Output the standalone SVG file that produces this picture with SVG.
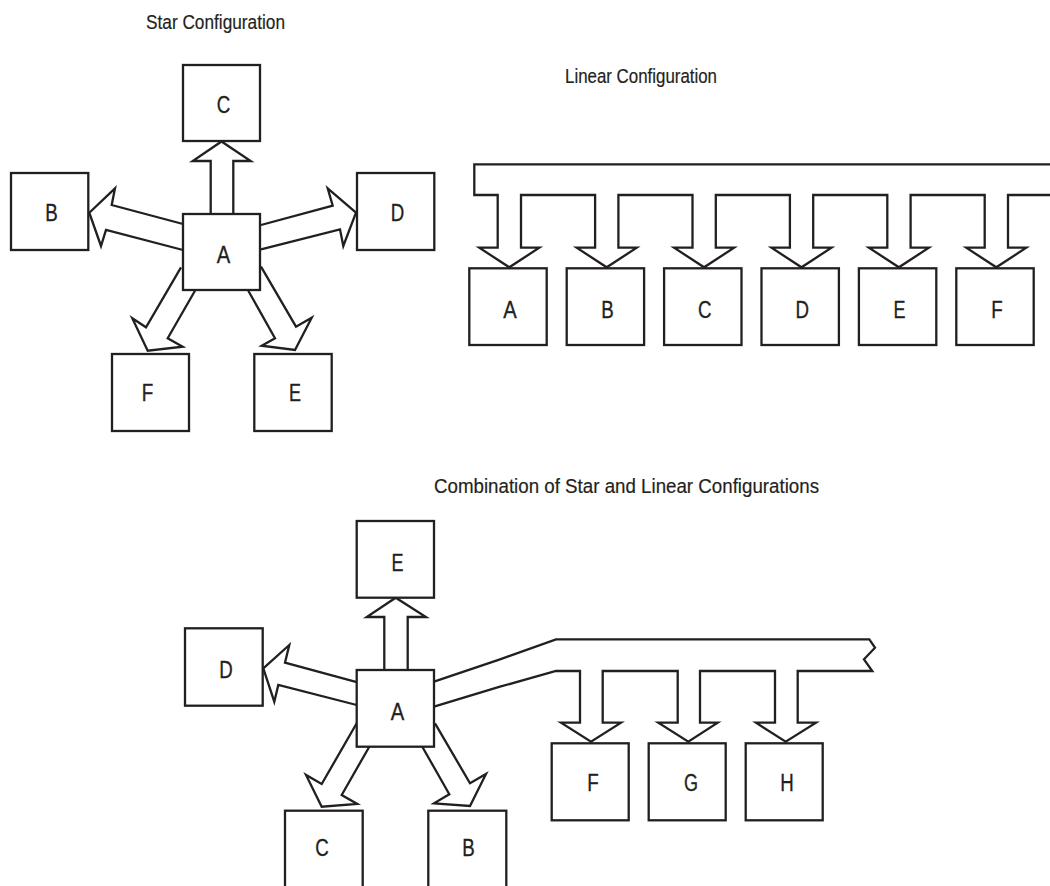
<svg xmlns="http://www.w3.org/2000/svg" width="1050" height="886" viewBox="0 0 1050 886">
<style>
.bx{fill:#fff;stroke:#231f20;stroke-width:2.3}
.cn{fill:none;stroke:#231f20;stroke-width:2.3;stroke-linejoin:miter;stroke-miterlimit:10}
.lb{font-family:"Liberation Sans Narrow","Liberation Sans",Arial,sans-serif;font-size:23.5px;fill:#231f20;stroke:#231f20;stroke-width:0.35;text-anchor:middle}
.tt{font-family:"Liberation Sans Narrow","Liberation Sans",Arial,sans-serif;font-size:20.5px;fill:#231f20;stroke:#231f20;stroke-width:0.2}
</style>
<rect width="1050" height="886" fill="#fff"/>

<text class="tt" x="146" y="28.5" textLength="139" lengthAdjust="spacingAndGlyphs">Star Configuration</text>
<text class="tt" x="565" y="82.5" textLength="152" lengthAdjust="spacingAndGlyphs">Linear Configuration</text>
<text class="tt" x="434" y="493" textLength="385" lengthAdjust="spacingAndGlyphs">Combination of Star and Linear Configurations</text>

<g id="connectors">
  <!-- star configuration -->
  <polyline class="cn" points="210.7,214 210.7,161 192.7,161 221.5,141.5 250.7,161 233.3,161 233.3,214"/>
  <polyline class="cn" points="183,224 111.7,205 115,188.3 89.3,212.7 101,246 106,230 183,250"/>
  <polyline class="cn" points="261,225 332.7,205.7 327.7,188.3 356,212.7 343.3,246 340,229.3 261,249.3"/>
  <polyline class="cn" points="181,267.3 146,327.3 132.3,318.3 147.7,350.7 182.7,346.7 167.7,338.3 195,290.7"/>
  <polyline class="cn" points="248.3,290.7 275,338.3 261.7,345.7 295,350 311.7,317.7 296,326.7 261,266.7"/>
  <!-- linear configuration bus -->
  <path class="cn" d="M1052,164.3 H474.3 V195 H497.7 V247.7 H479.3 L509.3,267.3 L539.3,247.7 H521 V195
    H595.1 V247.7 H576.7 L606.7,267.3 L636.7,247.7 H618.4 V195
    H692.5 V247.7 H674.1 L704.1,267.3 L734.1,247.7 H715.8 V195
    H789.9 V247.7 H771.5 L801.5,267.3 L831.5,247.7 H813.2 V195
    H887.3 V247.7 H868.9 L898.9,267.3 L928.9,247.7 H910.6 V195
    H984.7 V247.7 H966.3 L996.3,267.3 L1026.3,247.7 H1008 V195 H1052"/>
  <!-- combination -->
  <polyline class="cn" points="384.3,670 384.3,617 366.7,617 395.7,597.7 426,617 407.7,617 407.7,670"/>
  <polyline class="cn" points="357.7,682.3 285,662.7 289.3,645 263.3,668.3 274.3,701.7 278.3,685 356.7,705"/>
  <polyline class="cn" points="356.7,723.3 321.7,784 306,775 321.7,806.7 357.3,804 341.7,795 369.3,746.7"/>
  <polyline class="cn" points="422.3,746.7 449.3,794.3 434,803.3 470,806 486,774 470,783.3 435,723.3"/>
  <path class="cn" d="M434,681.7 L500,659.3 L556,639.3 H869.3 L875,647.7 L864,659.3 L872.3,671 H797.7 V722.7 H816 L785.7,741.7 L756,722.7 H775 V671
    H700 V722.7 H717.7 L688.3,741.7 L658.3,722.7 H677.7 V671
    H602.7 V722.7 H621 L591,741.7 L561,722.7 H580 V671 H556 L500,686.7 L434,706.7"/>
</g>

<!-- star configuration nodes -->
<g id="star-C"><rect class="bx" x="183" y="65" width="77" height="76"/><text class="lb" x="223.5" y="112.5" textLength="13.5" lengthAdjust="spacingAndGlyphs">C</text></g>
<g id="star-B"><rect class="bx" x="11" y="173" width="77.3" height="77"/><text class="lb" x="51.5" y="221" textLength="12.5" lengthAdjust="spacingAndGlyphs">B</text></g>
<g id="star-A"><rect class="bx" x="183" y="214" width="77" height="76"/><text class="lb" x="223.5" y="263" textLength="13.5" lengthAdjust="spacingAndGlyphs">A</text></g>
<g id="star-D"><rect class="bx" x="357" y="173" width="77.3" height="77"/><text class="lb" x="397.5" y="221" textLength="13.5" lengthAdjust="spacingAndGlyphs">D</text></g>
<g id="star-F"><rect class="bx" x="112" y="354" width="77" height="77"/><text class="lb" x="147.5" y="401" textLength="11.5" lengthAdjust="spacingAndGlyphs">F</text></g>
<g id="star-E"><rect class="bx" x="254.3" y="354" width="77.4" height="77"/><text class="lb" x="295" y="401" textLength="12" lengthAdjust="spacingAndGlyphs">E</text></g>

<!-- linear configuration nodes -->
<g id="lin-A"><rect class="bx" x="469.3" y="268.3" width="77.4" height="76.7"/><text class="lb" x="510" y="318" textLength="13.5" lengthAdjust="spacingAndGlyphs">A</text></g>
<g id="lin-B"><rect class="bx" x="566.7" y="268.3" width="77.4" height="76.7"/><text class="lb" x="607.4" y="318" textLength="12.5" lengthAdjust="spacingAndGlyphs">B</text></g>
<g id="lin-C"><rect class="bx" x="664.1" y="268.3" width="77.4" height="76.7"/><text class="lb" x="704.8" y="318" textLength="13.5" lengthAdjust="spacingAndGlyphs">C</text></g>
<g id="lin-D"><rect class="bx" x="761.5" y="268.3" width="77.4" height="76.7"/><text class="lb" x="802.2" y="318" textLength="13.5" lengthAdjust="spacingAndGlyphs">D</text></g>
<g id="lin-E"><rect class="bx" x="858.9" y="268.3" width="77.4" height="76.7"/><text class="lb" x="899.6" y="318" textLength="12" lengthAdjust="spacingAndGlyphs">E</text></g>
<g id="lin-F"><rect class="bx" x="956.3" y="268.3" width="77.4" height="76.7"/><text class="lb" x="997" y="318" textLength="11.5" lengthAdjust="spacingAndGlyphs">F</text></g>

<!-- combination nodes -->
<g id="comb-E"><rect class="bx" x="356.7" y="521" width="77.3" height="76.7"/><text class="lb" x="397.5" y="570.5" textLength="12" lengthAdjust="spacingAndGlyphs">E</text></g>
<g id="comb-D"><rect class="bx" x="185" y="628.3" width="77.7" height="77.4"/><text class="lb" x="226" y="678" textLength="13.5" lengthAdjust="spacingAndGlyphs">D</text></g>
<g id="comb-A"><rect class="bx" x="356.7" y="670" width="77.3" height="76.7"/><text class="lb" x="397.5" y="719.5" textLength="13.5" lengthAdjust="spacingAndGlyphs">A</text></g>
<g id="comb-C"><rect class="bx" x="285" y="810.7" width="77.7" height="100"/><text class="lb" x="322" y="856" textLength="13.5" lengthAdjust="spacingAndGlyphs">C</text></g>
<g id="comb-B"><rect class="bx" x="428.3" y="810.7" width="78" height="100"/><text class="lb" x="468.5" y="856" textLength="12.5" lengthAdjust="spacingAndGlyphs">B</text></g>
<g id="comb-F"><rect class="bx" x="551.7" y="743.3" width="77" height="77"/><text class="lb" x="593" y="791" textLength="11.5" lengthAdjust="spacingAndGlyphs">F</text></g>
<g id="comb-G"><rect class="bx" x="648.7" y="743.3" width="77" height="77"/><text class="lb" x="691" y="791" textLength="14" lengthAdjust="spacingAndGlyphs">G</text></g>
<g id="comb-H"><rect class="bx" x="745.7" y="743.3" width="77" height="77"/><text class="lb" x="787" y="791" textLength="13.5" lengthAdjust="spacingAndGlyphs">H</text></g>
</svg>
